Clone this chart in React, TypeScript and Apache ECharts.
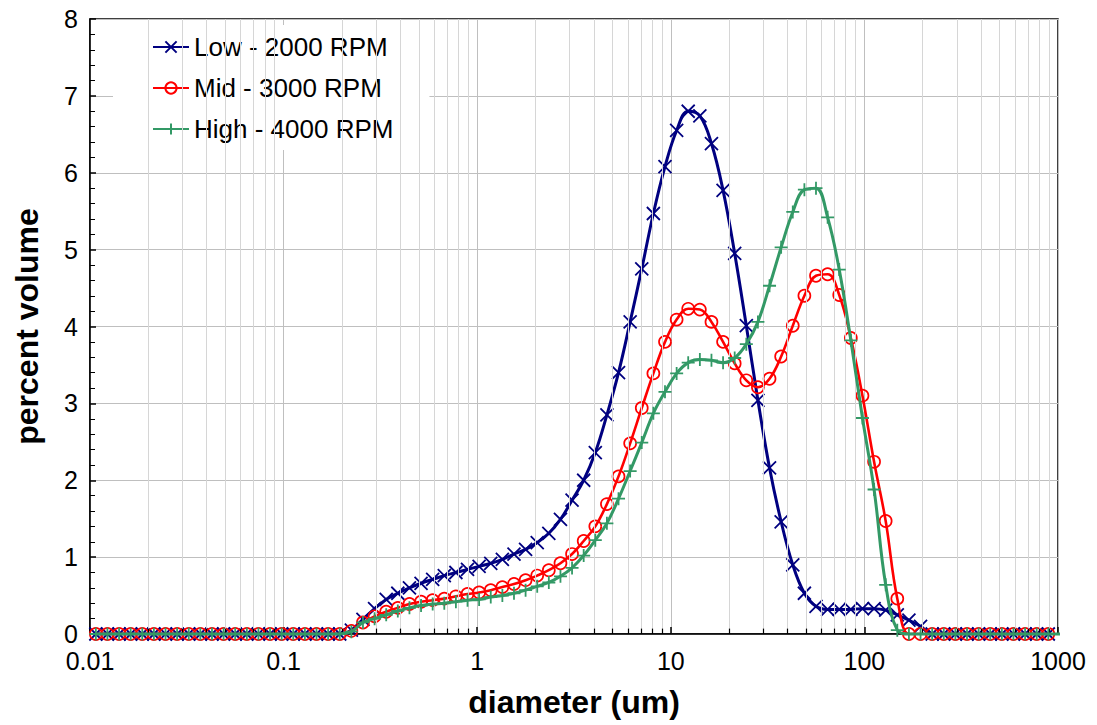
import React, { useEffect, useRef } from "react";
import * as echarts from "echarts";

// particle size classes (um), log-spaced bin centres
const DIAMETER = [
  0.01072, 0.0123, 0.01413, 0.01622, 0.01862, 0.02138, 0.02455, 0.02818, 0.03236, 0.03715,
  0.04266, 0.04898, 0.05623, 0.06457, 0.07413, 0.08511, 0.09772, 0.1122, 0.1288, 0.1479,
  0.1698, 0.195, 0.2239, 0.257, 0.2951, 0.3388, 0.389, 0.4467, 0.5129, 0.5888,
  0.6761, 0.7762, 0.8913, 1.023, 1.175, 1.349, 1.549, 1.778, 2.042, 2.344,
  2.692, 3.09, 3.548, 4.074, 4.677, 5.37, 6.166, 7.079, 8.128, 9.333,
  10.72, 12.3, 14.13, 16.22, 18.62, 21.38, 24.55, 28.18, 32.36, 37.15,
  42.66, 48.98, 56.23, 64.57, 74.13, 85.11, 97.72, 112.2, 128.8, 147.9,
  169.8, 195.0, 223.9, 257.0, 295.1, 338.8, 389.0, 446.7, 512.9, 588.8,
  676.1, 776.2, 891.3,
];

const LOW = [
  0, 0, 0, 0, 0, 0, 0, 0, 0, 0,
  0, 0, 0, 0, 0, 0, 0, 0, 0, 0,
  0, 0, 0.05, 0.19, 0.33, 0.45, 0.53, 0.6, 0.66, 0.71,
  0.76, 0.8, 0.84, 0.88, 0.92, 0.97, 1.04, 1.1, 1.19, 1.31,
  1.49, 1.74, 2.0, 2.36, 2.85, 3.4, 4.06, 4.75, 5.47, 6.08,
  6.55, 6.8, 6.74, 6.38, 5.77, 4.95, 4.01, 3.04, 2.16, 1.46,
  0.9, 0.53, 0.36, 0.32, 0.32, 0.32, 0.33, 0.33, 0.31, 0.25,
  0.18, 0.1, 0, 0, 0, 0, 0, 0, 0, 0,
  0, 0, 0,
];

const MID = [
  0, 0, 0, 0, 0, 0, 0, 0, 0, 0,
  0, 0, 0, 0, 0, 0, 0, 0, 0, 0,
  0, 0, 0.04, 0.15, 0.23, 0.29, 0.34, 0.39, 0.42, 0.44,
  0.46, 0.49, 0.52, 0.54, 0.57, 0.61, 0.65, 0.7, 0.76, 0.83,
  0.92, 1.04, 1.21, 1.4, 1.69, 2.05, 2.48, 2.94, 3.39, 3.8,
  4.09, 4.23, 4.22, 4.06, 3.8, 3.52, 3.3, 3.21, 3.32, 3.61,
  4.01, 4.4, 4.66, 4.68, 4.41, 3.85, 3.1, 2.24, 1.47, 0.46,
  0, 0, 0, 0, 0, 0, 0, 0, 0, 0,
  0, 0, 0,
];

const HIGH = [
  0, 0, 0, 0, 0, 0, 0, 0, 0, 0,
  0, 0, 0, 0, 0, 0, 0, 0, 0, 0,
  0, 0, 0.03, 0.15, 0.2, 0.25, 0.3, 0.34, 0.37, 0.39,
  0.4, 0.42, 0.44, 0.45, 0.48, 0.5, 0.53, 0.57, 0.62, 0.67,
  0.75, 0.86, 1.02, 1.22, 1.44, 1.76, 2.12, 2.49, 2.87, 3.15,
  3.39, 3.53, 3.57, 3.56, 3.53, 3.59, 3.77, 4.06, 4.53, 5.03,
  5.49, 5.78, 5.8, 5.42, 4.74, 3.82, 2.81, 1.88, 0.64, 0.05,
  0, 0, 0, 0, 0, 0, 0, 0, 0, 0,
  0, 0, 0,
];
// trailing line point of the High series (no marker)
const HIGH_TAIL = [1096, 0];

const SERIES_NAMES = ["Low - 2000 RPM", "Mid - 3000 RPM", "High - 4000 RPM"];
const DECADES = [0.01, 0.1, 1, 10, 100];
const MULTIPLIERS = [2, 3, 4, 5, 6, 7, 8, 9];

const FONT = "Liberation Sans, Arial, sans-serif";

export default function App() {
  const ref = useRef<HTMLDivElement>(null);

  useEffect(() => {
    if (!ref.current) return;
    const chart = echarts.init(ref.current, undefined, { renderer: "svg" });

    const minor: number[] = [];
    DECADES.forEach((d) => MULTIPLIERS.forEach((m) => minor.push(+(d * m).toPrecision(3))));

    const pts = (arr: number[]) => DIAMETER.map((d, i) => [d, arr[i]]);
    const crossPath = "path://M0,0L10,10M10,0L0,10";
    const plusPath = "path://M5,0L5,10M0,5L10,5";

    const option: any = {
      animation: false,
      backgroundColor: "#fff",
      textStyle: { fontFamily: FONT },
      grid: {
        left: 90,
        right: 39,
        top: 19,
        bottom: 91,
        show: true,
        borderColor: "#000",
        borderWidth: 1.5,
        backgroundColor: "transparent",
      },
      legend: {
        orient: "vertical",
        left: 113,
        top: 25,
        padding: [9, 36, 8, 39],
        backgroundColor: "#fff",
        itemWidth: 36,
        itemHeight: 14,
        itemGap: 15,
        textStyle: { fontSize: 26, color: "#000", fontFamily: FONT },
        data: SERIES_NAMES,
      },
      xAxis: {
        type: "log",
        logBase: 10,
        min: 0.01,
        max: 1000,
        name: "diameter (um)",
        nameLocation: "middle",
        nameGap: 52,
        nameTextStyle: { fontSize: 32, fontWeight: "bold", color: "#000", fontFamily: FONT },
        axisLine: { show: true, lineStyle: { color: "#000", width: 1.5 } },
        axisTick: { show: true, inside: true, length: 7, lineStyle: { color: "#000", width: 1.5 } },
        minorTick: { show: false },
        axisLabel: {
          fontSize: 25,
          color: "#000",
          fontFamily: FONT,
          margin: 14,
          formatter: (v: number) => {
            const e = Math.round(Math.log10(v));
            return e < 0 ? v.toFixed(-e) : String(Math.round(v));
          },
        },
        splitLine: { show: true, lineStyle: { color: "#bfbfbf", width: 1 } },
      },
      yAxis: {
        type: "value",
        min: 0,
        max: 8,
        interval: 1,
        name: "percent volume",
        nameLocation: "middle",
        nameGap: 47,
        nameTextStyle: { fontSize: 32, fontWeight: "bold", color: "#000", fontFamily: FONT },
        axisLine: { show: true, lineStyle: { color: "#000", width: 1.5 } },
        axisTick: { show: true, inside: true, length: 6, lineStyle: { color: "#000", width: 1.5 } },
        minorTick: { show: true, splitNumber: 5, length: 5, lineStyle: { color: "#000", width: 1 } },
        axisLabel: { fontSize: 25, color: "#000", fontFamily: FONT, margin: 12 },
        splitLine: { show: true, lineStyle: { color: "#bfbfbf", width: 1 } },
      },
      series: [
        {
          name: "minor-grid",
          type: "line",
          data: [],
          z: 1,
          silent: true,
          markLine: {
            silent: true,
            symbol: ["none", "none"],
            label: { show: false },
            lineStyle: { color: "#d6d6d6", width: 1, type: "solid" },
            emphasis: { disabled: true },
            data: minor.map((v) => ({ xAxis: v })),
          },
        },
        {
          name: "minor-ticks",
          type: "line",
          data: [],
          z: 1,
          silent: true,
          markLine: {
            silent: true,
            symbol: ["none", "none"],
            label: { show: false },
            lineStyle: { color: "#000", width: 1.2, type: "solid" },
            emphasis: { disabled: true },
            data: minor.map((v) => [{ coord: [v, 0] }, { coord: [v, 0.07] }]),
          },
        },
        {
          name: SERIES_NAMES[0],
          type: "line",
          z: 3,
          data: pts(LOW),
          smooth: 0.4,
          symbol: crossPath,
          symbolSize: 13,
          lineStyle: { color: "#000080", width: 3 },
          itemStyle: { color: "rgba(0,0,0,0)", borderColor: "#000080", borderWidth: 1.8 },
        },
        {
          name: SERIES_NAMES[1],
          type: "line",
          z: 4,
          data: pts(MID),
          smooth: 0.4,
          symbol: "circle",
          symbolSize: 12,
          lineStyle: { color: "#ff0000", width: 2.6 },
          itemStyle: { color: "rgba(0,0,0,0)", borderColor: "#ff0000", borderWidth: 1.7 },
        },
        {
          name: SERIES_NAMES[2],
          type: "line",
          z: 5,
          clip: false,
          data: [...pts(HIGH), { value: HIGH_TAIL, symbol: "none" }],
          smooth: 0.4,
          symbol: plusPath,
          symbolSize: 13,
          lineStyle: { color: "#339966", width: 3 },
          itemStyle: { color: "rgba(0,0,0,0)", borderColor: "#339966", borderWidth: 1.8 },
        },
      ],
    };

    chart.setOption(option);
    return () => chart.dispose();
  }, []);

  return (
    <div
      ref={ref}
      style={{ position: "absolute", left: 0, top: 0, width: 1097, height: 725 }}
    />
  );
}
